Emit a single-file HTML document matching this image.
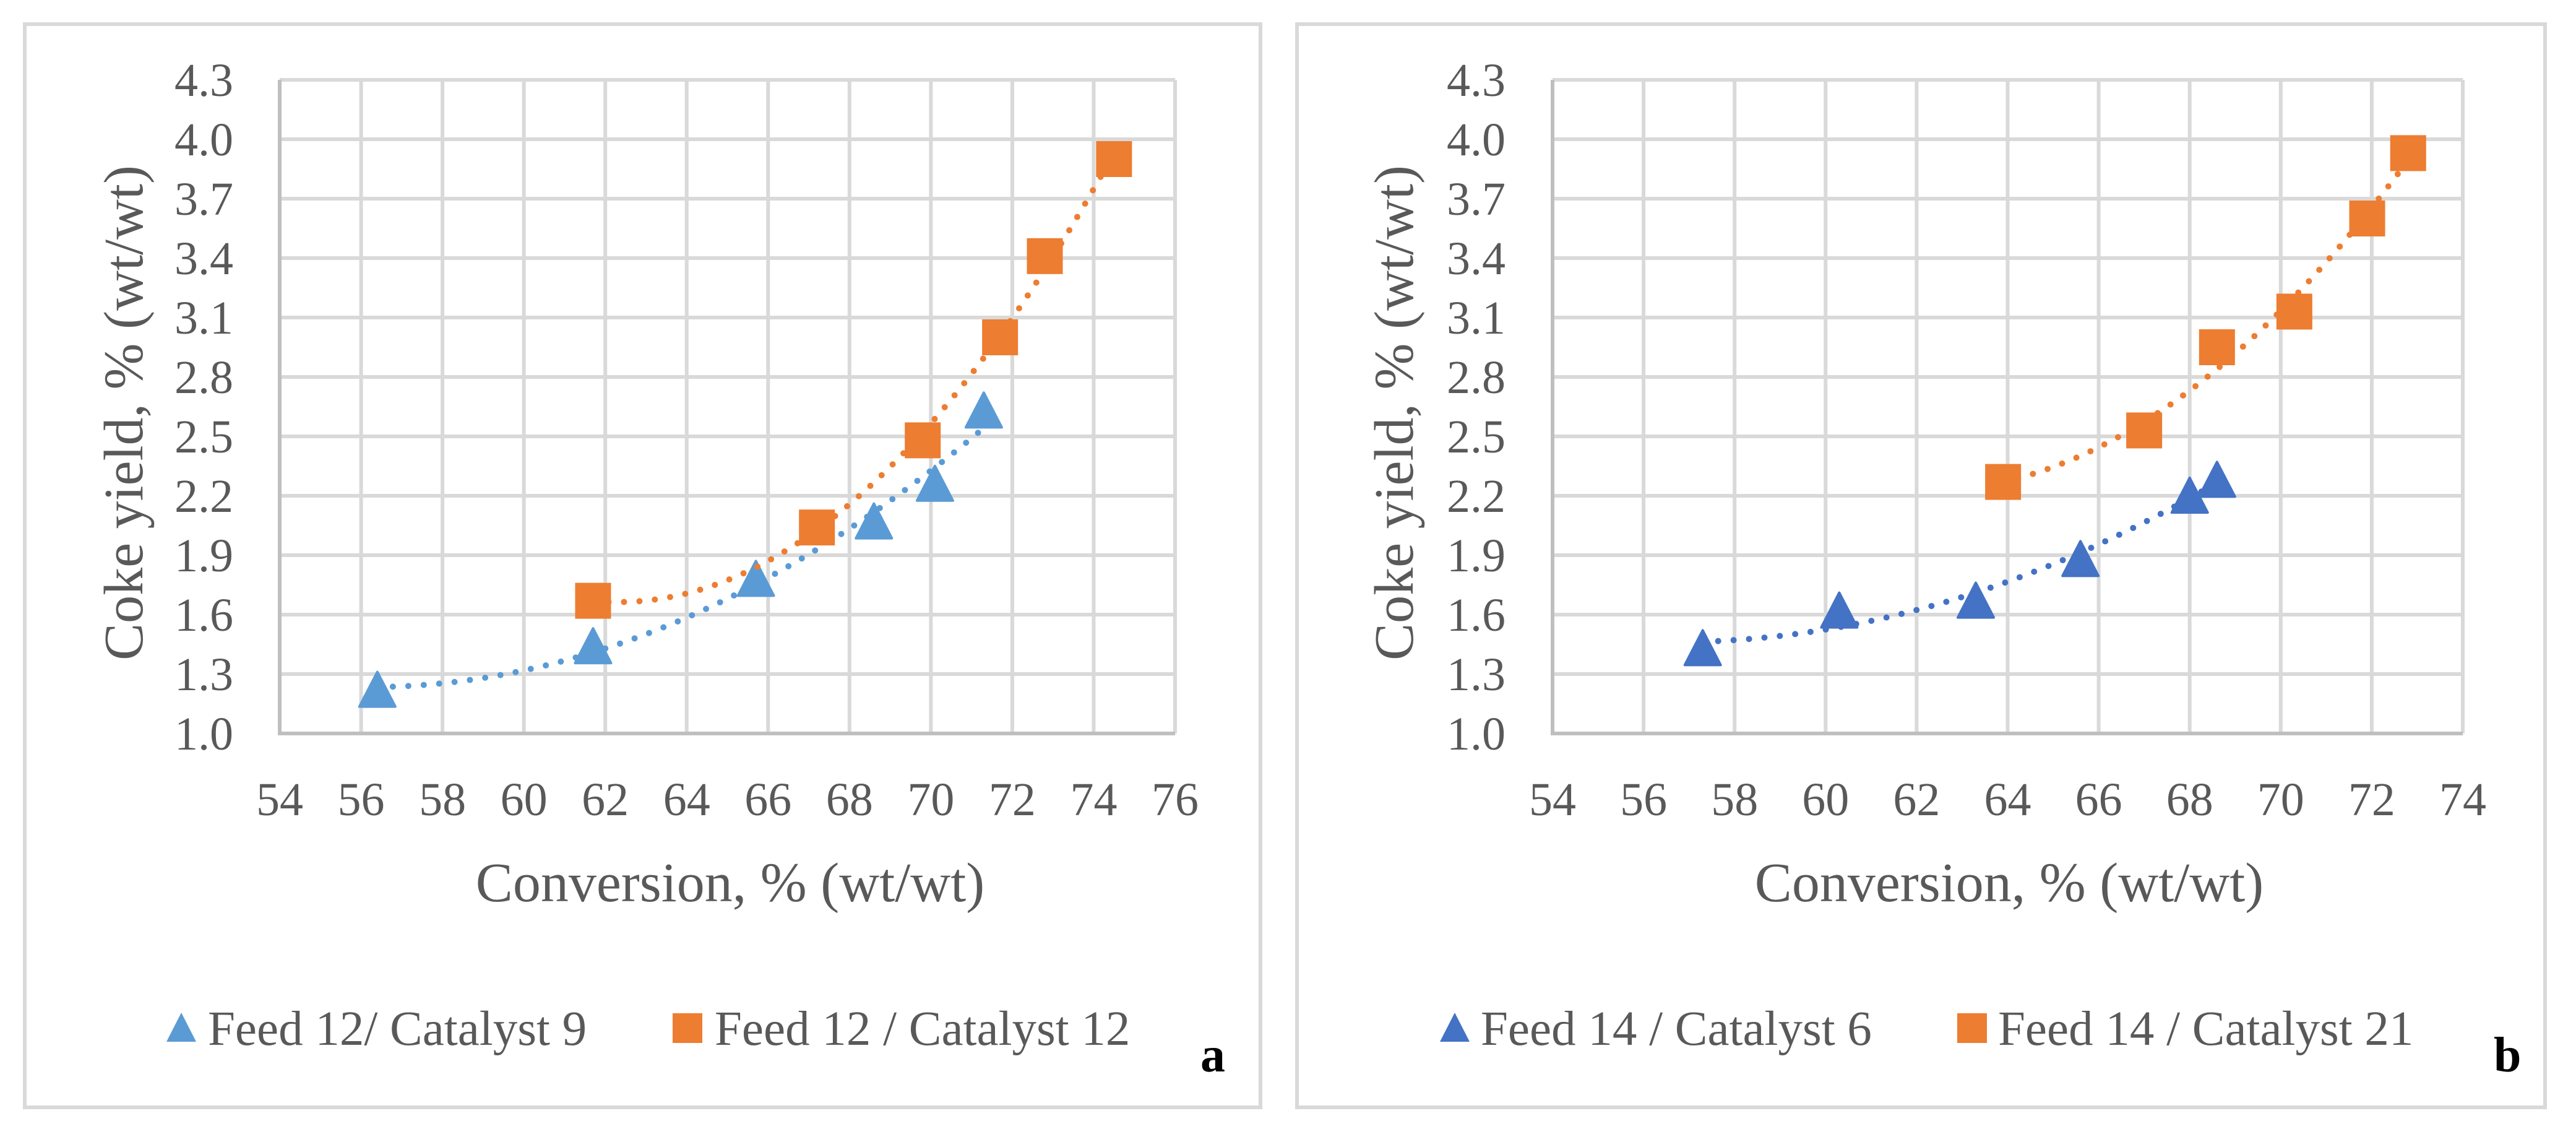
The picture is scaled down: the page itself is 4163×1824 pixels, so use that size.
<!DOCTYPE html>
<html><head><meta charset="utf-8"><style>
html,body{margin:0;padding:0;background:#fff;width:4163px;height:1824px;overflow:hidden}
svg{display:block}
text{font-family:"Liberation Serif",serif;fill:#595959}
</style></head><body>
<svg id="fig" width="4163" height="1824" viewBox="0 0 4163 1824">
<rect x="40" y="39" width="1997" height="1750" fill="none" stroke="#d9d9d9" stroke-width="6"/>
<rect x="2096" y="39" width="2017" height="1750" fill="none" stroke="#d9d9d9" stroke-width="6"/>
<g id="pa"></g>
<g id="pb"></g>
</svg>
<script>
const yTicks = [1.0,1.3,1.6,1.9,2.2,2.5,2.8,3.1,3.4,3.7,4.0,4.3];
const xTicksA = [54,56,58,60,62,64,66,68,70,72,74,76];
const xTicksB = [54,56,58,60,62,64,66,68,70,72,74];
const a1x = [56.4,61.7,65.7,68.6,70.1,71.3];
const a1y = [1.22,1.44,1.78,2.07,2.26,2.63];
const a2x = [61.7,67.2,69.8,71.7,72.8,74.5];
const a2y = [1.67,2.04,2.48,3.00,3.41,3.90];
const b1x = [57.3,60.3,63.3,65.6,68.0,68.6];
const b1y = [1.43,1.62,1.67,1.88,2.20,2.28];
const b2x = [63.9,67.0,68.6,70.3,71.9,72.8];
const b2y = [2.27,2.53,2.95,3.13,3.60,3.93];
const legA = ["Feed 12/ Catalyst 9","Feed 12 / Catalyst 12"];
const legB = ["Feed 14 / Catalyst 6","Feed 14 / Catalyst 21"];

const NS="http://www.w3.org/2000/svg";
function mk(p,tag,at,txt){const e=document.createElementNS(NS,tag);for(const k in at)e.setAttribute(k,at[k]);if(txt!=null)e.textContent=txt;p.appendChild(e);return e;}
function quadFit(xs,ys){
  const n=xs.length;let S=[0,0,0,0,0],T=[0,0,0];
  for(let i=0;i<n;i++){const x=xs[i];for(let k=0;k<5;k++)S[k]+=Math.pow(x,k);for(let k=0;k<3;k++)T[k]+=ys[i]*Math.pow(x,k);}
  const M=[[S[0],S[1],S[2],T[0]],[S[1],S[2],S[3],T[1]],[S[2],S[3],S[4],T[2]]];
  for(let i=0;i<3;i++){for(let j=i+1;j<3;j++){const f=M[j][i]/M[i][i];for(let k=i;k<4;k++)M[j][k]-=f*M[i][k];}}
  const c=[0,0,0];for(let i=2;i>=0;i--){let s=M[i][3];for(let k=i+1;k<3;k++)s-=M[i][k]*c[k];c[i]=s/M[i][i];}
  return x=>c[0]+c[1]*x+c[2]*x*x;
}
function panel(g,o){
  const {L,R,xt,ylab,ytx,ttx,lx,series,legs,letter,letX}=o;
  const T=129,B=1185;
  const xmin=xt[0],xmax=xt[xt.length-1];
  const X=v=>L+(v-xmin)/(xmax-xmin)*(R-L);
  const Y=v=>B-(v-1.0)/(4.3-1.0)*(B-T);
  yTicks.forEach(v=>{
    const l=mk(g,'line',{x1:L,x2:R,y1:Y(v),y2:Y(v),stroke:'#d9d9d9','stroke-width':6});
    
    
    const t=mk(g,'text',{x:ylab,y:Y(v)+26,'text-anchor':'end','font-size':76},v.toFixed(1));
    
    
  });
  xt.forEach(v=>{
    const l=mk(g,'line',{x1:X(v),x2:X(v),y1:T,y2:B,stroke:'#d9d9d9','stroke-width':6});
    
    
    const t=mk(g,'text',{x:X(v),y:1317,'text-anchor':'middle','font-size':76},String(v));
    
    
  });
  const ax=mk(g,'path',{d:`M${L},${T} V${B} H${R}`,fill:'none',stroke:'#bfbfbf','stroke-width':6});
  
  
  const yt=mk(g,'text',{x:0,y:0,transform:`translate(${ytx},667) rotate(-90)`,'text-anchor':'middle','font-size':90},'Coke yield, % (wt/wt)');
  
  
  const xtt=mk(g,'text',{x:ttx,y:1456,'text-anchor':'middle','font-size':90},'Conversion, % (wt/wt)');
  
  
  series.forEach((s,si)=>{
    const f=quadFit(s.x,s.y);
    const x0=Math.min(...s.x),x1=Math.max(...s.x);
    let d='';for(let i=0;i<=80;i++){const xv=x0+(x1-x0)*i/80;d+=(i?'L':'M')+X(xv).toFixed(1)+','+Y(f(xv)).toFixed(1);}
    const tl=mk(g,'path',{d:d,fill:'none',stroke:s.c,'stroke-width':10,'stroke-linecap':'round','stroke-dasharray':'0 25'});
    
    
    s.x.forEach((xv,i)=>{
      const cx=X(xv),cy=Y(s.y[i]);let m;
      if(s.m==='tri') m=mk(g,'path',{d:`M${cx},${cy-29} L${cx+29},${cy+27} L${cx-29},${cy+27}Z`,fill:s.c,stroke:s.c,'stroke-width':4,'stroke-linejoin':'round'});
      else m=mk(g,'rect',{x:cx-29,y:cy-29,width:58,height:58,fill:s.c});
      
      
    });
  });
  legs.forEach((txt,i)=>{
    const s=series[i];const mx=lx[i][0],tx=lx[i][1],cy=1661;let m;
    if(s.m==='tri') m=mk(g,'path',{d:`M${mx},${cy-25} L${mx+24},${cy+22} L${mx-24},${cy+22}Z`,fill:s.c});
    else m=mk(g,'rect',{x:mx-24,y:cy-24,width:48,height:48,fill:s.c});
    
    
    const t=mk(g,'text',{x:tx,y:cy+27,'font-size':79},txt);
    
    
  });
  const lt=mk(g,'text',{x:letX,y:1731,'font-size':80,'font-weight':'bold',style:'fill:#000'},letter);
  
  
}
panel(document.getElementById('pa'),{L:452,R:1899,xt:xTicksA,ylab:377,ytx:230,ttx:1180,
  lx:[[293,336],[1111,1155]],legs:legA,letter:'a',letX:1940,
  series:[{x:a1x,y:a1y,c:'#5b9bd5',m:'tri'},{x:a2x,y:a2y,c:'#ed7d31',m:'sq'}]});
panel(document.getElementById('pb'),{L:2509,R:3980,xt:xTicksB,ylab:2433,ytx:2283,ttx:3247,
  lx:[[2351,2393],[3187,3229]],legs:legB,letter:'b',letX:4030,
  series:[{x:b1x,y:b1y,c:'#4472c4',m:'tri'},{x:b2x,y:b2y,c:'#ed7d31',m:'sq'}]});
</script>
</body></html>
